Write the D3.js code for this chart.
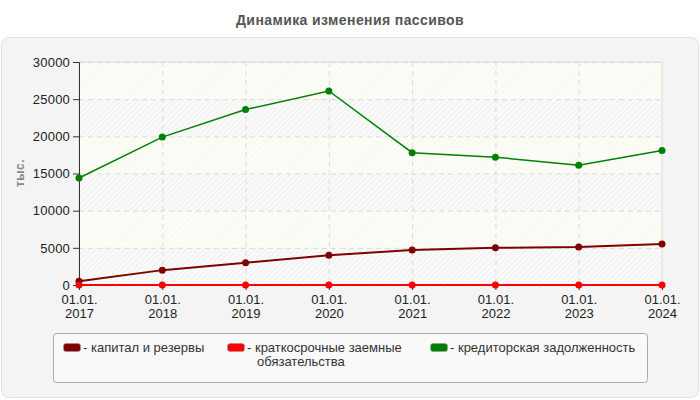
<!DOCTYPE html>
<html>
<head>
<meta charset="utf-8">
<title>Динамика изменения пассивов</title>
<script src="https://cdn.jsdelivr.net/npm/d3@7"></script>
<style>
  body { margin: 0; background: #fff; font-family: "Liberation Sans", Arial, sans-serif; }
  svg text { font-family: "Liberation Sans", Arial, sans-serif; }
</style>
</head>
<body>
<script>
var years = ["2017", "2018", "2019", "2020", "2021", "2022", "2023", "2024"];
var capital = [500, 2000, 3000, 4000, 4700, 5000, 5100, 5500];
var shortLoans = [0, 0, 0, 0, 0, 0, 0, 0];
var payables = [14400, 19900, 23600, 26100, 17800, 17200, 16100, 18100];
var yTicks = [0, 5000, 10000, 15000, 20000, 25000, 30000];
var seriesNames = ["капитал и резервы", "краткосрочные заемные обязательства", "кредиторская задолженность"];
var seriesColors = ["#800000", "#ff0000", "#008000"];

var width = 700, height = 400,
    plotLeft = 79, plotRight = 662, plotTop = 62, plotBottom = 285;

var svg = d3.select("body").append("svg")
  .attr("width", width).attr("height", height);

var defs = svg.append("defs");
function makeHatch(id, bg, fg) {
  var p = defs.append("pattern").attr("id", id)
    .attr("width", 4).attr("height", 4)
    .attr("patternUnits", "userSpaceOnUse")
    .attr("patternTransform", "rotate(45)");
  p.append("rect").attr("width", 4).attr("height", 4).attr("fill", bg);
  p.append("line").attr("x1", 0).attr("y1", 0).attr("x2", 0).attr("y2", 4)
    .attr("stroke", fg).attr("stroke-width", 1.5);
}
makeHatch("hatch", "#fafafa", "#ececec");
makeHatch("hatch2", "#fdfdf7", "#f6f6ee");

// title
svg.append("text").attr("x", 350).attr("y", 25).attr("text-anchor", "middle")
  .attr("font-size", 14).attr("letter-spacing", 0.4).attr("font-weight", "bold").attr("fill", "#555")
  .text("Динамика изменения пассивов");

// panel
svg.append("rect").attr("x", 1.5).attr("y", 37.5).attr("width", 697).attr("height", 360)
  .attr("rx", 7).attr("fill", "#f4f4f4").attr("stroke", "#e2e2e2");

var x = d3.scalePoint().domain(years).range([plotLeft, plotRight]);
var y = d3.scaleLinear().domain([0, 30000]).range([plotBottom, plotTop]);

// bands
for (var i = 0; i < yTicks.length - 1; i++) {
  svg.append("rect")
    .attr("x", plotLeft).attr("width", plotRight - plotLeft)
    .attr("y", y(yTicks[i + 1])).attr("height", y(yTicks[i]) - y(yTicks[i + 1]))
    .attr("fill", i % 2 == 0 ? "url(#hatch)" : "url(#hatch2)");
}
svg.append("rect").attr("x", plotLeft).attr("y", plotTop).attr("width", plotRight - plotLeft).attr("height", plotBottom - plotTop)
  .attr("fill", "none").attr("stroke", "#dcdcdc");

// grid
svg.append("g").selectAll("line").data(yTicks.slice(1)).join("line")
  .attr("x1", plotLeft).attr("x2", plotRight)
  .attr("y1", function(d) { return y(d) + 0.5; }).attr("y2", function(d) { return y(d) + 0.5; })
  .attr("stroke", "#dadada").attr("stroke-dasharray", "5,4");
svg.append("g").selectAll("line").data(years.slice(1, -1)).join("line")
  .attr("y1", plotTop).attr("y2", plotBottom)
  .attr("x1", function(d) { return x(d) + 0.5; }).attr("x2", function(d) { return x(d) + 0.5; })
  .attr("stroke", "#dadada").attr("stroke-dasharray", "5,4");

// axes
var yAxis = svg.append("g").attr("transform", "translate(" + plotLeft + ",0)")
  .call(d3.axisLeft(y).tickValues(yTicks).tickSize(6).tickPadding(3).tickFormat(d3.format("d")));
yAxis.select(".domain").attr("stroke", "#333");
yAxis.selectAll(".tick line").attr("stroke", "#333");
yAxis.selectAll("text").attr("font-size", 13).attr("fill", "#222").attr("letter-spacing", 0.2);

var xAxis = svg.append("g").attr("transform", "translate(0," + plotBottom + ")")
  .call(d3.axisBottom(x).tickSize(5).tickFormat(""));
xAxis.select(".domain").attr("stroke", "#333");
xAxis.selectAll(".tick line").attr("stroke", "#333");
xAxis.selectAll(".tick").append("text")
  .attr("fill", "#222").attr("font-size", 13).attr("text-anchor", "middle")
  .each(function(d) {
    var t = d3.select(this);
    t.append("tspan").attr("x", 0).attr("y", 19).text("01.01.");
    t.append("tspan").attr("x", 0).attr("y", 33).text(d);
  });

svg.append("text").attr("transform", "translate(24,173) rotate(-90)")
  .attr("text-anchor", "middle").attr("font-size", 12).attr("font-weight", "bold").attr("fill", "#888")
  .attr("letter-spacing", 0.5)
  .text("тыс.");

// lines
var allSeries = [capital, shortLoans, payables];
var line = d3.line().x(function(d, i) { return x(years[i]); }).y(function(d) { return y(d); });
[0, 2, 1].forEach(function(s) {
  var g = svg.append("g");
  g.append("path").datum(allSeries[s]).attr("d", line)
    .attr("fill", "none").attr("stroke", seriesColors[s]).attr("stroke-width", s == 2 ? 1.5 : 2);
  g.selectAll("circle").data(allSeries[s]).join("circle")
    .attr("cx", function(d, i) { return x(years[i]); }).attr("cy", function(d) { return y(d); })
    .attr("r", 3.5).attr("fill", seriesColors[s]);
});

// legend
svg.append("rect").attr("x", 53.5).attr("y", 333.5).attr("width", 594).attr("height", 49)
  .attr("rx", 3).attr("fill", "#f9f9f9").attr("stroke", "#aaa");
var legendX = [63, 227, 430];
seriesNames.forEach(function(name, i) {
  var g = svg.append("g").attr("transform", "translate(" + legendX[i] + ",0)");
  g.append("rect").attr("x", 0.5).attr("y", 343.5).attr("width", 17).attr("height", 8).attr("rx", 2.5)
    .attr("fill", seriesColors[i]).attr("stroke", "#999").attr("stroke-width", 0.6);
  var t = g.append("text").attr("font-size", 13).attr("fill", "#333");
  if (i == 1) {
    t.append("tspan").attr("x", 20).attr("y", 352).text("- краткосрочные заемные");
    t.append("tspan").attr("x", 30).attr("y", 366).text("обязательства");
  } else {
    t.append("tspan").attr("x", 20).attr("y", 352).text("- " + name);
  }
});
</script>
</body>
</html>
